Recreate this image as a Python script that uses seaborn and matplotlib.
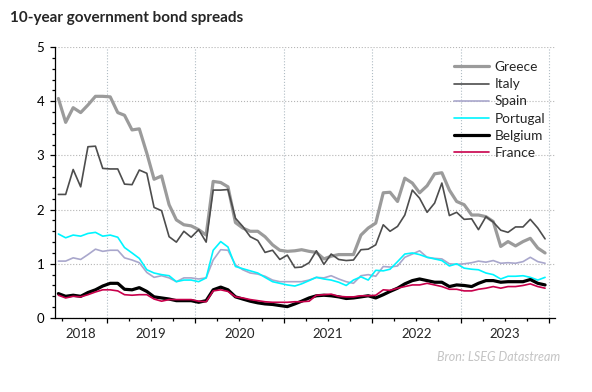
import pandas as pd
import numpy as np
import matplotlib
matplotlib.use('Agg')
import matplotlib.pyplot as plt
import matplotlib.dates as mdates
import seaborn as sns

# Monthly spreads vs Bund (%-points), June 2018 - December 2023
months = pd.date_range('2018-06-01', periods=67, freq='MS') + pd.Timedelta(days=14)

greece = [4.05, 3.61, 3.88, 3.79, 3.93, 4.09, 4.09, 4.08, 3.79, 3.74, 3.47, 3.49,
          3.04, 2.56, 2.62, 2.09, 1.81, 1.72, 1.70, 1.63, 1.53, 2.52, 2.50,
          2.42, 1.76, 1.66, 1.60, 1.60, 1.50, 1.35, 1.25, 1.23, 1.24,
          1.26, 1.23, 1.21, 1.09, 1.14, 1.17, 1.17, 1.17, 1.53, 1.66, 1.75,
          2.31, 2.32, 2.15, 2.58, 2.49, 2.31, 2.44, 2.66, 2.68, 2.36, 2.15, 2.09,
          1.90, 1.90, 1.87, 1.78, 1.32, 1.41, 1.33, 1.41, 1.47, 1.29, 1.20]
italy = [2.28, 2.28, 2.74, 2.42, 3.16, 3.17, 2.76, 2.75, 2.75, 2.47, 2.46, 2.73,
         2.67, 2.04, 1.98, 1.50, 1.40, 1.60, 1.49, 1.63, 1.40, 2.36, 2.36,
         2.37, 1.84, 1.69, 1.50, 1.43, 1.21, 1.25, 1.08, 1.16, 0.93,
         0.94, 1.02, 1.24, 0.99, 1.18, 1.08, 1.06, 1.07, 1.26, 1.27, 1.35,
         1.72, 1.60, 1.69, 1.90, 2.36, 2.21, 1.95, 2.12, 2.49, 1.89, 1.95, 1.82,
         1.83, 1.63, 1.87, 1.77, 1.62, 1.58, 1.68, 1.68, 1.82, 1.66, 1.46]
spain = [1.05, 1.05, 1.11, 1.08, 1.17, 1.27, 1.23, 1.25, 1.25, 1.11, 1.07, 1.02,
         0.84, 0.75, 0.78, 0.74, 0.67, 0.74, 0.74, 0.72, 0.74, 1.07, 1.26,
         1.25, 0.98, 0.89, 0.83, 0.81, 0.77, 0.70, 0.67, 0.67, 0.67,
         0.67, 0.70, 0.75, 0.74, 0.78, 0.72, 0.67, 0.64, 0.78, 0.80, 0.77,
         0.95, 0.94, 0.96, 1.12, 1.18, 1.24, 1.12, 1.10, 1.09, 1.00, 0.99, 1.00,
         1.02, 1.05, 1.03, 1.06, 1.01, 1.02, 1.01, 1.04, 1.12, 1.04, 1.01]
portugal = [1.55, 1.48, 1.53, 1.51, 1.56, 1.58, 1.51, 1.53, 1.49, 1.30, 1.20, 1.10,
            0.89, 0.83, 0.80, 0.78, 0.67, 0.70, 0.70, 0.67, 0.74, 1.25, 1.41,
            1.31, 0.95, 0.91, 0.87, 0.83, 0.75, 0.67, 0.64, 0.61, 0.59,
            0.63, 0.69, 0.75, 0.72, 0.70, 0.66, 0.60, 0.70, 0.76, 0.70, 0.88,
            0.87, 0.90, 1.04, 1.18, 1.20, 1.17, 1.12, 1.09, 1.06, 0.96, 1.00, 0.92,
            0.90, 0.89, 0.83, 0.80, 0.72, 0.77, 0.77, 0.78, 0.75, 0.70, 0.75]
belgium = [0.45, 0.40, 0.42, 0.40, 0.47, 0.52, 0.59, 0.64, 0.64, 0.53, 0.52, 0.56,
           0.49, 0.39, 0.37, 0.35, 0.32, 0.32, 0.32, 0.29, 0.32, 0.52, 0.57,
           0.52, 0.39, 0.35, 0.31, 0.28, 0.26, 0.25, 0.23, 0.21, 0.26,
           0.31, 0.37, 0.41, 0.42, 0.41, 0.39, 0.36, 0.37, 0.39, 0.41, 0.37,
           0.43, 0.49, 0.55, 0.63, 0.69, 0.72, 0.69, 0.66, 0.66, 0.58, 0.61, 0.60,
           0.58, 0.64, 0.69, 0.69, 0.66, 0.67, 0.67, 0.67, 0.71, 0.64, 0.61]
france = [0.42, 0.37, 0.40, 0.39, 0.43, 0.48, 0.52, 0.52, 0.50, 0.43, 0.42, 0.43,
          0.43, 0.35, 0.31, 0.34, 0.34, 0.34, 0.34, 0.31, 0.30, 0.50, 0.52,
          0.49, 0.39, 0.37, 0.34, 0.32, 0.30, 0.29, 0.29, 0.29, 0.30,
          0.30, 0.31, 0.42, 0.43, 0.44, 0.40, 0.39, 0.39, 0.41, 0.41, 0.42,
          0.52, 0.51, 0.55, 0.58, 0.61, 0.61, 0.64, 0.61, 0.58, 0.53, 0.53, 0.50,
          0.50, 0.53, 0.55, 0.58, 0.55, 0.58, 0.58, 0.60, 0.63, 0.58, 0.55]

year_labels = ['2018', '2019', '2020', '2021', '2022', '2023']

series = [
    ('Greece', greece, '#9b9b9b', 2.3),
    ('Italy', italy, '#4d4d4d', 1.2),
    ('Spain', spain, '#a9a7cc', 1.2),
    ('Portugal', portugal, '#00f5ff', 1.2),
    ('Belgium', belgium, '#000000', 2.3),
    ('France', france, '#c8004b', 1.2),
]

sns.set_style('ticks')
plt.rcParams['font.family'] = ['Lato', 'DejaVu Sans']

fig = plt.figure(figsize=(5.92, 3.92), dpi=100)
ax = fig.add_axes([55 / 592, 74 / 392, 500 / 592, 271 / 392])

for name, vals, color, lw in series:
    sns.lineplot(x=months, y=vals, color=color, linewidth=lw, label=name, ax=ax)

# x axis: year boundaries as major ticks, quarters as minor ticks
x0 = mdates.date2num(pd.Timestamp('2018-06-01'))
x1 = mdates.date2num(pd.Timestamp('2024-01-25'))
ax.set_xlim(x0, x1)
year_bounds = mdates.date2num(pd.to_datetime([f'{y}-01-01' for y in range(2019, 2025)]))
quarters = mdates.date2num(pd.date_range('2018-07-01', '2024-01-01', freq='QS'))
ax.set_xticks(year_bounds)
ax.set_xticklabels([])
ax.set_xticks(quarters, minor=True)

ax.set_ylim(0, 5)
ax.set_yticks(range(6))
ax.set_yticks(np.arange(0, 5.01, 0.2), minor=True)

ax.tick_params(axis='both', which='major', length=3.8, width=0.9, color='black',
               labelsize=9.5, labelcolor='black')
ax.tick_params(axis='both', which='minor', length=2.5, width=0.9, color='black')
ax.tick_params(axis='y', which='major', pad=4)
ax.set_xlabel('')
ax.set_ylabel('')

ax.grid(axis='y', which='major', linestyle=':', color='#b5b5b5', linewidth=0.8)
ax.grid(axis='x', which='major', linestyle=':', color='#b0bcc4', linewidth=0.8)
ax.set_axisbelow(True)

for side in ['top', 'right']:
    ax.spines[side].set_visible(False)
for side in ['left', 'bottom']:
    ax.spines[side].set_color('black')
    ax.spines[side].set_linewidth(0.9)

# year labels centred between the boundaries
mids = [(x0 + year_bounds[0]) / 2] + [(year_bounds[k] + year_bounds[k + 1]) / 2 for k in range(5)]
sec = ax.secondary_xaxis('bottom')
sec.set_xticks(mids, labels=year_labels)
sec.tick_params(length=0, pad=7, labelsize=9.5)
sec.spines['bottom'].set_visible(False)

ax.legend(loc='upper left', bbox_to_anchor=(0.781, 0.978), frameon=False, fontsize=9.8,
          handlelength=2.6, handletextpad=0.4, labelspacing=0.38, borderaxespad=0.2)

fig.text(10 / 592, 1 - 18 / 392, '10-year government bond spreads', fontweight='bold',
         fontsize=11, va='center', ha='left')
fig.text(560 / 592, 1 - 357 / 392, 'Bron: LSEG Datastream', style='italic',
         color='#c4c4c4', fontsize=9, va='center', ha='right')

fig.savefig('out.png', dpi=100)
